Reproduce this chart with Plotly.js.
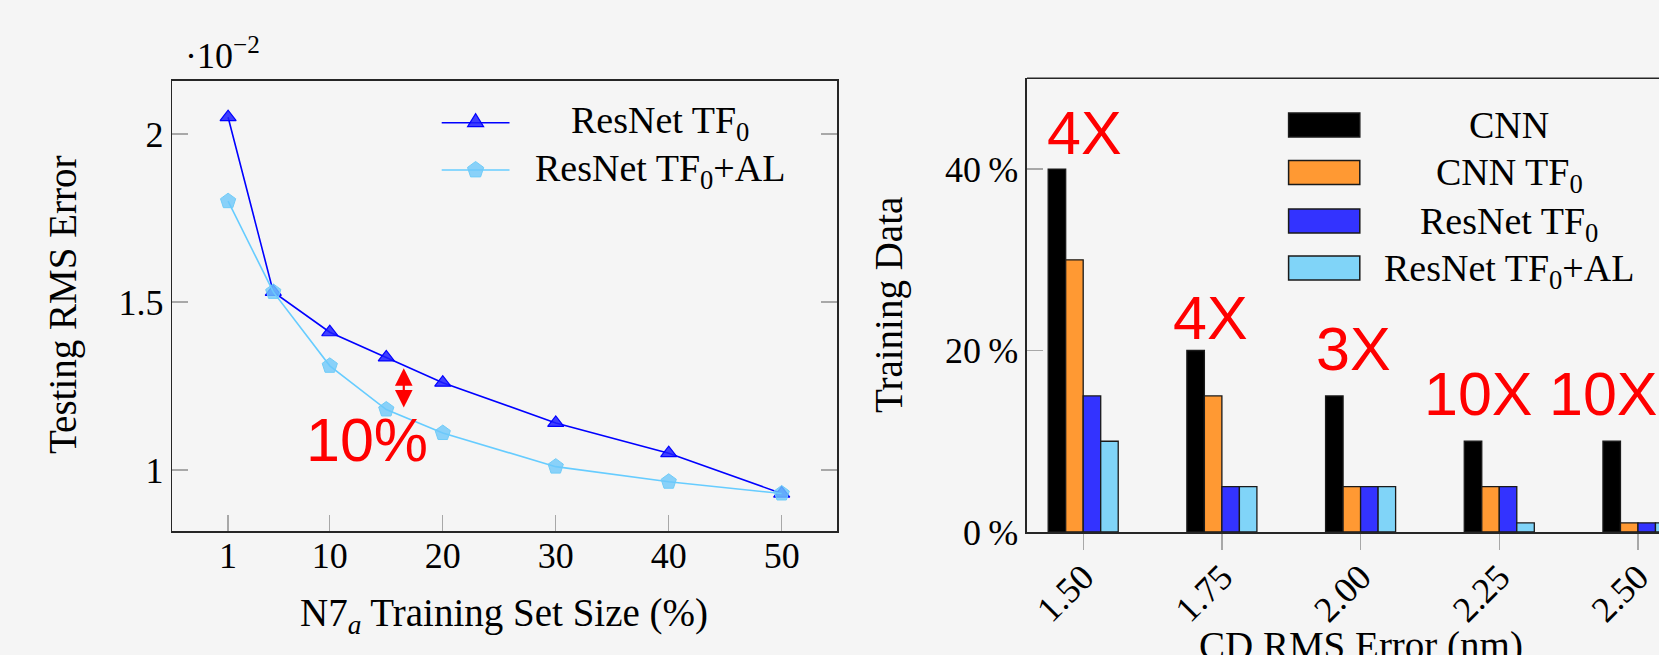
<!DOCTYPE html>
<html>
<head>
<meta charset="utf-8">
<script src="https://cdn.plot.ly/plotly-3.0.1.min.js"></script>
<style>
html,body{margin:0;padding:0;background:#f5f5f5;overflow:hidden;}
#chart{width:1659px;height:655px;}
</style>
</head>
<body>
<div id="chart"></div>
<script>
// ---------- Data (left chart: Testing RMS Error, in units of 10^-2) ----------
const trainSetSize = [1, 5, 10, 15, 20, 30, 40, 50];
const rmsResNetTF0 = [2.05, 1.53, 1.41, 1.335, 1.26, 1.14, 1.05, 0.93];
const rmsResNetTF0AL = [1.80, 1.53, 1.31, 1.18, 1.11, 1.01, 0.965, 0.93];
const leftYTicks = [1, 1.5, 2];
const leftYTickText = ['1', '1.5', '2'];
const leftXTicks = [1, 10, 20, 30, 40, 50];

// ---------- Data (right chart: Training Data %) ----------
const cdRmsError = [1.50, 1.75, 2.00, 2.25, 2.50];
const cdTickText = ['1.50', '1.75', '2.00', '2.25', '2.50'];
const dataCNN = [40, 20, 15, 10, 10];
const dataCNNTF0 = [30, 15, 5, 5, 1];
const dataResNetTF0 = [15, 5, 5, 5, 1];
const dataResNetTF0AL = [10, 5, 5, 1, 1];
const ratioLabels = ['4X', '4X', '3X', '10X', '10X'];
const rightYTicks = [0, 20, 40];
const rightYTickText = ['0\u2009%', '20\u2009%', '40\u2009%'];

const barNames = ['CNN', 'CNN TF<sub>0</sub>', 'ResNet TF<sub>0</sub>', 'ResNet TF<sub>0</sub>+AL'];
const barValues = [dataCNN, dataCNNTF0, dataResNetTF0, dataResNetTF0AL];

// ---------- Styles / layout helpers ----------
const W = 1659, H = 655;
const X = p => p / W, Y = p => 1 - p / H;
const SERIF = '"Liberation Serif", "Times New Roman", serif';
const SANS = '"Liberation Sans", Arial, sans-serif';
const barColors = ['#000000', '#ff9933', '#3333ff', '#80d4f8'];
const ratioPos = [[1.503, 44.0], [1.729, 23.6], [1.988, 20.2], [2.213, 15.2], [2.437, 15.2]];

const traces = [
  {
    x: trainSetSize, y: rmsResNetTF0, xaxis: 'x', yaxis: 'y', mode: 'lines+markers',
    line: {color: '#0000ff', width: 1.6},
    marker: {symbol: 'triangle-up', size: 14, color: 'rgba(30,30,255,0.85)', line: {color: '#0000ff', width: 1.2}},
    cliponaxis: false
  },
  {
    x: trainSetSize, y: rmsResNetTF0AL, xaxis: 'x', yaxis: 'y', mode: 'lines+markers',
    line: {color: '#66ccff', width: 1.6},
    marker: {symbol: 'pentagon', size: 16, color: 'rgba(110,200,250,0.8)', line: {color: '#70ccf8', width: 1}},
    cliponaxis: false
  }
];
barValues.forEach((vals, i) => {
  traces.push({
    type: 'bar', x: cdRmsError, y: vals, xaxis: 'x2', yaxis: 'y2', name: barNames[i],
    marker: {color: barColors[i], line: {color: '#1a1a1a', width: 1.3}}
  });
});

const axisCommon = {
  showgrid: false, zeroline: false, showline: true, linecolor: '#262626', linewidth: 1.6,
  ticklen: 16, tickwidth: 1.3, tickcolor: '#a8a8a8', tickfont: {family: SERIF, size: 36, color: '#000'}
};

const annotations = [];
const ann = o => annotations.push(Object.assign({showarrow: false, xanchor: 'center', yanchor: 'middle',
  font: {family: SERIF, size: 38, color: '#000'}}, o));

// left chart texts
ann({xref: 'paper', yref: 'paper', x: X(183), y: Y(54), xanchor: 'left', text: '·10<sup>−2</sup>', font: {family: SERIF, size: 36, color: '#000'}});
ann({xref: 'paper', yref: 'paper', x: X(504), y: Y(615), text: 'N7<sub><i>a</i></sub> Training Set Size (%)', font: {family: SERIF, size: 39, color: '#000'}});
ann({xref: 'paper', yref: 'paper', x: X(62.5), y: Y(305.5), text: 'Testing RMS Error', textangle: -90, font: {family: SERIF, size: 39, color: '#000'}});
ann({xref: 'paper', yref: 'paper', x: X(660), y: Y(123), text: 'ResNet TF<sub>0</sub>'});
ann({xref: 'paper', yref: 'paper', x: X(660), y: Y(170.5), text: 'ResNet TF<sub>0</sub>+AL'});
ann({xref: 'x', yref: 'y', x: 13.28, y: 1.089, text: '10%', font: {family: SANS, size: 61, color: '#ff0000'}});
annotations.push({xref: 'x', yref: 'y', axref: 'x', ayref: 'y', x: 16.55, y: 1.303, ax: 16.55, ay: 1.1815,
  text: '', showarrow: true, arrowhead: 2, arrowside: 'end+start', arrowsize: 1.6, arrowwidth: 2.2,
  arrowcolor: '#ff0000', standoff: 0, startstandoff: 0, font: {size: 1}});

// right chart texts
ann({xref: 'paper', yref: 'paper', x: X(889), y: Y(305), text: 'Training Data', textangle: -90, font: {family: SERIF, size: 39, color: '#000'}});
ann({xref: 'x2', yref: 'paper', x: 2.0, y: Y(646), text: 'CD RMS Error (nm)', font: {family: SERIF, size: 39, color: '#000'}});
const legendRows = [125, 172.5, 221, 268];
barNames.forEach((n, i) => {
  ann({xref: 'paper', yref: 'paper', x: X(1509), y: Y(legendRows[i] + (i ? 3 : 0)), text: n});
});
ratioLabels.forEach((t, i) => {
  ann({xref: 'x2', yref: 'y2', x: ratioPos[i][0], y: ratioPos[i][1], text: t, font: {family: SANS, size: 61, color: '#ff0000'}});
});

const shapes = [];
// top border of right plot (plot continues past the page edge)
shapes.push({type: 'line', xref: 'paper', yref: 'paper', x0: X(1027), x1: 1, y0: Y(78.3), y1: Y(78.3), line: {color: '#262626', width: 1.6}});
// right legend swatches
barColors.forEach((c, i) => {
  shapes.push({type: 'rect', xref: 'paper', yref: 'paper', x0: X(1288.6), x1: X(1359.8),
    y0: Y(legendRows[i] - 12), y1: Y(legendRows[i] + 12), fillcolor: c, line: {color: '#1a1a1a', width: 1.5}});
});
// left legend lines + markers
const legY = [122.7, 170];
const legColors = ['#0000ff', '#66ccff'];
legY.forEach((yy, i) => {
  shapes.push({type: 'line', xref: 'paper', yref: 'paper', x0: X(441.7), x1: X(509.5), y0: Y(yy), y1: Y(yy), line: {color: legColors[i], width: 1.6}});
});
shapes.push({type: 'path', xref: 'paper', yref: 'paper', xsizemode: 'pixel', ysizemode: 'pixel',
  xanchor: X(475.6), yanchor: Y(122.7), path: 'M -8,-4 L 8,-4 L 0,9 Z',
  fillcolor: 'rgba(30,30,255,0.85)', line: {color: '#0000ff', width: 1.2}});
shapes.push({type: 'path', xref: 'paper', yref: 'paper', xsizemode: 'pixel', ysizemode: 'pixel',
  xanchor: X(475.6), yanchor: Y(170), path: 'M 0,8.5 L 8.1,2.6 L 5,-6.9 L -5,-6.9 L -8.1,2.6 Z',
  fillcolor: 'rgba(110,200,250,0.8)', line: {color: '#70ccf8', width: 1}});

const layout = {
  width: W, height: H, margin: {l: 0, r: 0, t: 0, b: 0},
  paper_bgcolor: '#f5f5f5', plot_bgcolor: '#f5f5f5', showlegend: false,
  font: {family: SERIF, size: 36, color: '#000'},
  barmode: 'group', bargap: 0.495, bargroupgap: 0,
  xaxis: Object.assign({}, axisCommon, {domain: [X(172.4), X(837.4)], range: [-3.93, 54.93], tickvals: leftXTicks,
    ticks: 'inside', mirror: true, anchor: 'y', ticklabelstandoff: -8}),
  yaxis: Object.assign({}, axisCommon, {domain: [Y(531), Y(80.7)], range: [0.8185, 2.1586], tickvals: leftYTicks,
    ticktext: leftYTickText, ticks: 'inside', mirror: 'ticks', anchor: 'x'}),
  xaxis2: Object.assign({}, axisCommon, {domain: [X(1027), 1], range: [1.3987, 2.5379], tickvals: cdRmsError,
    ticktext: cdTickText, ticks: 'outside', tickangle: -45, anchor: 'y2', ticklabelstandoff: -8}),
  yaxis2: Object.assign({}, axisCommon, {domain: [Y(532), Y(78.3)], range: [0, 50], tickvals: rightYTicks,
    ticktext: rightYTickText, ticks: 'inside', anchor: 'x2'}),
  annotations: annotations, shapes: shapes
};

Plotly.newPlot('chart', traces, layout, {displayModeBar: false, staticPlot: true});
</script>
</body>
</html>
